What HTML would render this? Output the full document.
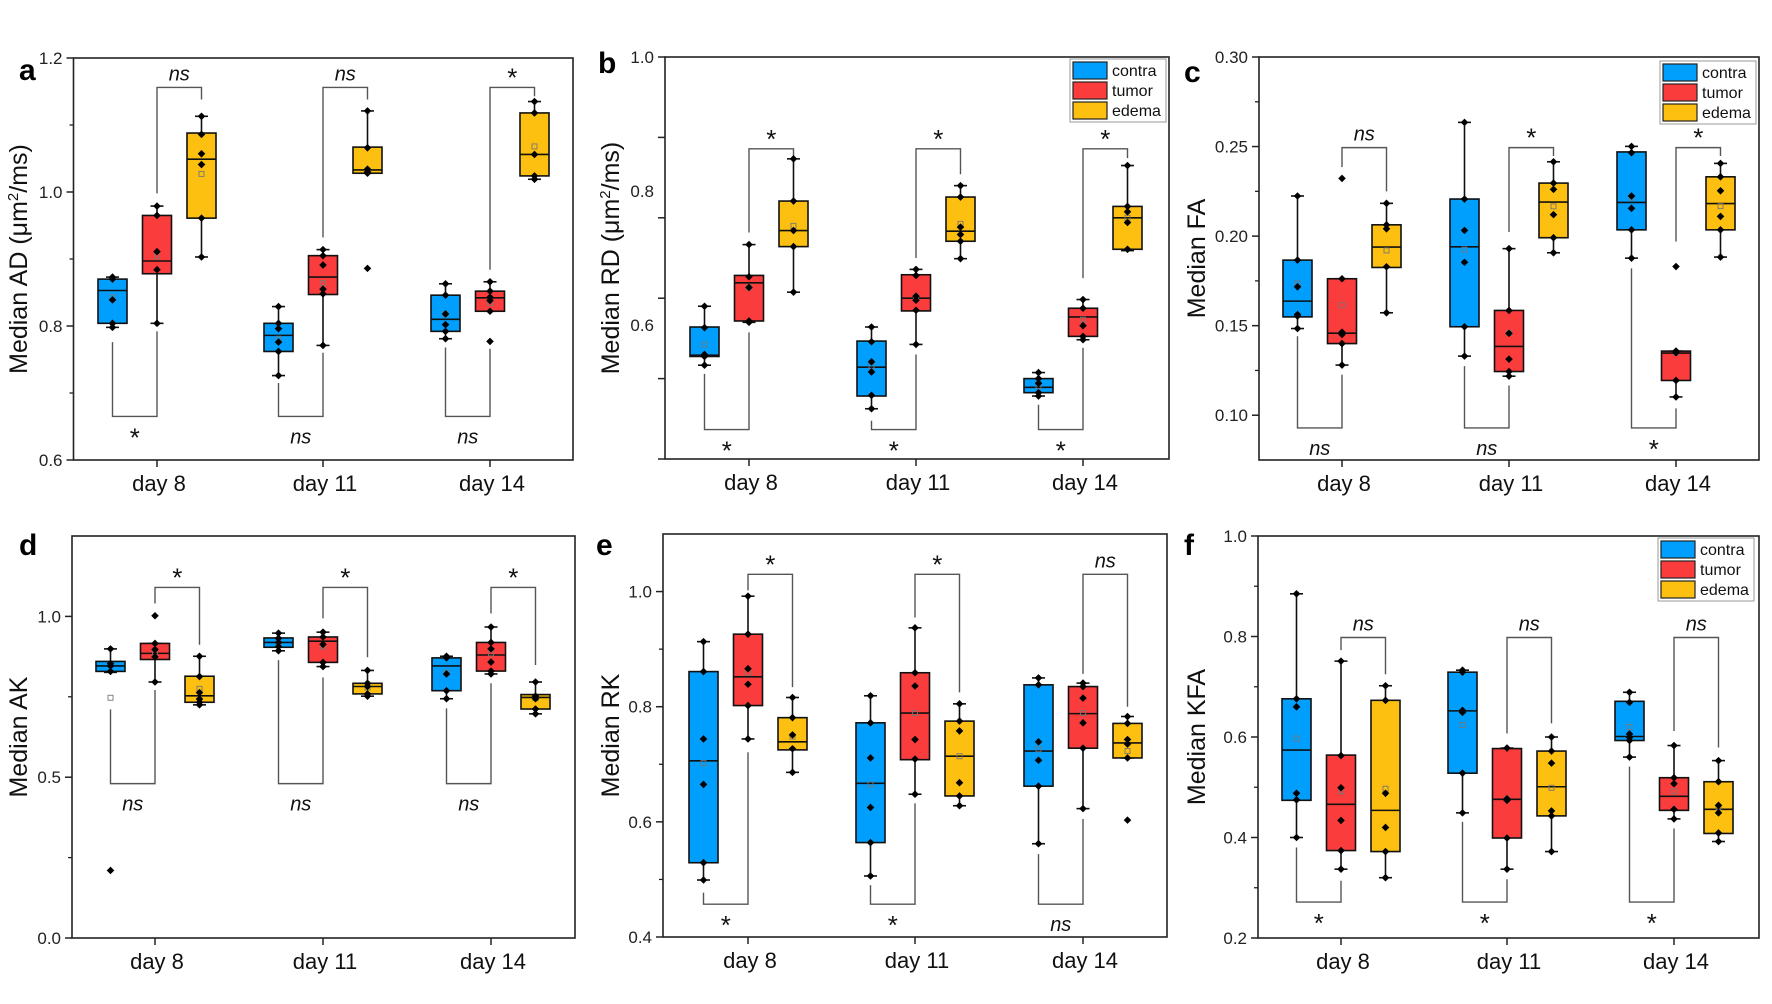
<!DOCTYPE html>
<html><head><meta charset="utf-8"><style>
html,body{margin:0;padding:0;background:#fff;}
svg{display:block;font-family:"Liberation Sans",Arial,sans-serif;}
</style></head><body>
<svg id="fig" width="1772" height="1004" viewBox="0 0 1772 1004" xmlns="http://www.w3.org/2000/svg"></svg>
<script>
// ---------- shared ----------
const days = ["day 8","day 11","day 14"];
const groups = ["contra","tumor","edema"];
const groupColors = ["#009ffd","#fa3c3c","#fdc010"];

// ---------- panel a : Median AD ----------
const aQ1  = [0.804,0.878,0.961, 0.762,0.847,1.028, 0.792,0.822,1.024];
const aMed = [0.853,0.897,1.049, 0.786,0.873,1.033, 0.810,0.842,1.056];
const aQ3  = [0.870,0.965,1.088, 0.804,0.905,1.067, 0.846,0.852,1.118];
const aLo  = [0.798,0.804,0.903, 0.726,0.771,1.028, 0.781,0.822,1.019];
const aHi  = [0.873,0.979,1.113, 0.829,0.914,1.121, 0.863,0.866,1.135];
const aMean= [0.843,0.904,1.027, 0.781,0.864,1.032, 0.818,0.834,1.068];
const aPts = [[0.873,0.870,0.839,0.804,0.798],[0.979,0.965,0.911,0.884,0.804],[1.113,1.086,1.057,1.041,0.961,0.903],
              [0.829,0.804,0.796,0.776,0.762,0.726],[0.914,0.905,0.891,0.855,0.848,0.771],[1.121,1.066,1.034,1.030,1.028],
              [0.863,0.846,0.818,0.802,0.792,0.781],[0.866,0.852,0.843,0.838,0.822],[1.135,1.118,1.056,1.024,1.019]];
const aOut = [[],[],[], [],[],[0.886], [],[0.777],[]];
const aTopY = 1.156, aTopLegs = [[0.998,1.138],[0.932,1.138],[0.884,1.143]], aTopLab = ["ns","ns","*"];
const aBotY = 0.665, aBotLegs = [[0.776,0.792],[0.715,0.760],[0.768,0.766]], aBotLab = ["*","ns","ns"];
const aTickLabels = [0.6,0.8,1.0,1.2], aMinor = [0.7,0.9,1.1];

// ---------- panel b : Median RD ----------
const bQ1  = [0.553,0.606,0.717, 0.494,0.621,0.725, 0.499,0.583,0.713];
const bMed = [0.555,0.663,0.741, 0.537,0.640,0.740, 0.507,0.612,0.760];
const bQ3  = [0.597,0.674,0.785, 0.576,0.675,0.791, 0.520,0.625,0.777];
const bLo  = [0.540,0.604,0.649, 0.475,0.571,0.699, 0.494,0.578,0.711];
const bHi  = [0.628,0.720,0.848, 0.597,0.683,0.808, 0.529,0.638,0.838];
const bMean= [0.571,0.656,0.748, 0.539,0.642,0.751, 0.509,0.608,0.760];
const bPts = [[0.628,0.596,0.556,0.553,0.540],[0.720,0.672,0.656,0.606,0.604],[0.848,0.785,0.741,0.717,0.649],
              [0.597,0.575,0.545,0.530,0.495,0.475],[0.683,0.674,0.643,0.637,0.622,0.571],[0.808,0.791,0.746,0.735,0.725,0.699],
              [0.529,0.520,0.513,0.499,0.494],[0.638,0.625,0.599,0.583,0.578],[0.838,0.777,0.769,0.753,0.713]];
const bOut = [[],[],[],[],[],[],[],[],[]];
const bTopY = 0.863, bTopLegs = [[0.738,0.849],[0.700,0.825],[0.670,0.849]], bTopLab = ["*","*","*"];
const bBotY = 0.444, bBotLegs = [[0.527,0.589],[0.457,0.556],[0.481,0.566]], bBotLab = ["*","*","*"];
const bTickLabels = [0.6,0.8,1.0], bMinor = [0.52,0.64,0.76,0.88];

// ---------- panel c : Median FA ----------
const cQ1  = [0.1549,0.140,0.1825, 0.1494,0.1244,0.1991, 0.2035,0.1194,0.2035];
const cMed = [0.1637,0.1458,0.1939, 0.194,0.1384,0.219, 0.2188,0.1347,0.2182];
const cQ3  = [0.1866,0.1762,0.2063, 0.2207,0.1585,0.2296, 0.247,0.1358,0.2331];
const cLo  = [0.1484,0.128,0.1572, 0.133,0.1218,0.1907, 0.1877,0.1102,0.1883];
const cHi  = [0.2224,0.1762,0.2183, 0.2635,0.193,0.2415, 0.2501,0.1358,0.2406];
const cMean= [0.1736,0.1614,0.1920, 0.1925,0.1459,0.2166, 0.2215,0.1350,0.2167];
const cPts = [[0.2224,0.1866,0.1717,0.1562,0.1553,0.1484],[0.1762,0.1464,0.1451,0.140,0.128],[0.2183,0.2063,0.2041,0.1829,0.1572],
              [0.2635,0.2207,0.2032,0.1854,0.1494,0.133],[0.193,0.1585,0.1457,0.1313,0.1244,0.1218],[0.2415,0.2296,0.2261,0.2120,0.1991,0.1907],
              [0.2501,0.2466,0.2224,0.2155,0.2035,0.1877],[0.1358,0.1349,0.1194,0.1102],[0.2406,0.2331,0.2253,0.2110,0.2035,0.1883]];
const cOut = [[],[0.2322],[], [],[],[], [],[0.183],[]];
const cTopY = 0.2494, cTopLegs = [[0.2385,0.2250],[0.2023,0.2447],[0.197,0.2447]], cTopLab = ["ns","*","*"];
const cBotY = 0.0929, cBotLegs = [[0.1441,0.1227],[0.1274,0.1166],[0.182,0.1038]], cBotLab = ["ns","ns","*"];
const cTickLabels = [0.10,0.15,0.20,0.25,0.30], cMinor = [0.125,0.175,0.225,0.275];

// ---------- panel d : Median AK ----------
const dQ1  = [0.829,0.866,0.733, 0.904,0.857,0.759, 0.769,0.830,0.712];
const dMed = [0.846,0.885,0.753, 0.919,0.923,0.782, 0.846,0.880,0.748];
const dQ3  = [0.860,0.916,0.814, 0.933,0.936,0.792, 0.871,0.919,0.757];
const dLo  = [0.826,0.796,0.725, 0.893,0.844,0.752, 0.744,0.821,0.697];
const dHi  = [0.899,0.916,0.876, 0.948,0.951,0.832, 0.876,0.967,0.796];
const dMean= [0.747,0.885,0.775, 0.916,0.906,0.779, 0.825,0.885,0.746];
const dPts = [[0.899,0.853,0.846,0.829],[0.916,0.897,0.874,0.796],[0.876,0.813,0.763,0.743,0.733,0.725],
              [0.948,0.932,0.919,0.906,0.893],[0.951,0.936,0.913,0.857,0.844],[0.832,0.792,0.782,0.759,0.752],
              [0.876,0.871,0.821,0.769,0.744],[0.967,0.919,0.899,0.858,0.830,0.821],[0.796,0.752,0.744,0.712,0.697]];
const dOut = [[0.210],[1.002],[], [],[],[], [],[],[]];
const dTopY = 1.090, dTopLegs = [[1.040,0.912],[0.994,0.873],[1.009,0.849]], dTopLab = ["*","*","*"];
const dBotY = 0.480, dBotLegs = [[0.711,0.771],[0.864,0.810],[0.714,0.792]], dBotLab = ["ns","ns","ns"];
const dTickLabels = [0.0,0.5,1.0], dMinor = [0.25,0.75];

// ---------- panel e : Median RK ----------
const eQ1  = [0.529,0.802,0.725, 0.564,0.708,0.645, 0.662,0.728,0.711];
const eMed = [0.706,0.852,0.739, 0.667,0.789,0.714, 0.723,0.788,0.737];
const eQ3  = [0.861,0.926,0.781, 0.772,0.859,0.775, 0.838,0.835,0.771];
const eLo  = [0.499,0.744,0.686, 0.506,0.648,0.628, 0.562,0.623,0.711];
const eHi  = [0.913,0.992,0.816, 0.819,0.937,0.805, 0.850,0.841,0.783];
const eMean= [0.702,0.859,0.748, 0.665,0.789,0.714, 0.726,0.789,0.723];
const ePts = [[0.913,0.861,0.744,0.665,0.529,0.499],[0.992,0.926,0.866,0.839,0.802,0.744],[0.816,0.781,0.751,0.727,0.686],
              [0.819,0.772,0.711,0.625,0.564,0.506],[0.937,0.859,0.836,0.743,0.709,0.648],[0.805,0.775,0.758,0.668,0.645,0.628],
              [0.850,0.838,0.739,0.707,0.662,0.562],[0.841,0.835,0.815,0.772,0.728,0.623],[0.783,0.771,0.743,0.735,0.711]];
const eOut = [[],[],[], [],[],[], [],[],[0.603]];
const eTopY = 1.030, eTopLegs = [[1.002,0.834],[0.955,0.825],[0.857,0.800]], eTopLab = ["*","*","ns"];
const eBotY = 0.457, eBotLegs = [[0.477,0.721],[0.490,0.632],[0.544,0.605]], eBotLab = ["*","*","ns"];
const eTickLabels = [0.4,0.6,0.8,1.0], eMinor = [0.5,0.7,0.9];

// ---------- panel f : Median KFA ----------
const fQ1  = [0.474,0.374,0.372, 0.528,0.399,0.443, 0.593,0.454,0.408];
const fMed = [0.574,0.466,0.454, 0.652,0.476,0.501, 0.601,0.482,0.456];
const fQ3  = [0.676,0.564,0.673, 0.729,0.577,0.572, 0.671,0.519,0.511];
const fLo  = [0.400,0.337,0.320, 0.449,0.337,0.372, 0.560,0.437,0.392];
const fHi  = [0.885,0.751,0.702, 0.733,0.578,0.600, 0.689,0.583,0.553];
const fMean= [0.597,0.492,0.497, 0.624,0.476,0.499, 0.620,0.492,0.460];
const fPts = [[0.885,0.676,0.660,0.488,0.475,0.400],[0.751,0.563,0.499,0.434,0.374,0.337],[0.702,0.673,0.488,0.420,0.372,0.320],
              [0.733,0.729,0.653,0.649,0.528,0.449],[0.578,0.477,0.474,0.399,0.337],[0.600,0.572,0.548,0.453,0.443,0.372],
              [0.689,0.669,0.606,0.599,0.593,0.560],[0.583,0.519,0.507,0.456,0.437],[0.553,0.511,0.464,0.449,0.409,0.392]];
const fOut = [[],[],[],[],[],[],[],[],[]];
const fTopY = 0.798, fTopLegs = [[0.773,0.725],[0.607,0.627],[0.612,0.579]], fTopLab = ["ns","ns","ns"];
const fBotY = 0.2716, fBotLegs = [[0.380,0.314],[0.431,0.317],[0.541,0.418]], fBotLab = ["*","*","*"];
const fTickLabels = [0.2,0.4,0.6,0.8,1.0], fMinor = [0.3,0.5,0.7,0.9];

// ---------- drawing ----------
const NS = "http://www.w3.org/2000/svg";
const svg = document.getElementById("fig");
function mk(tag, attrs, parent){
  const el = document.createElementNS(NS, tag);
  for (const k in attrs) el.setAttribute(k, attrs[k]);
  (parent||svg).appendChild(el);
  return el;
}
function diamond(g, x, y){
  const r = 3.8;
  const el = mk("polygon", {points:`${x},${y-r} ${x+r},${y} ${x},${y+r} ${x-r},${y}`, fill:"#000"}, g);
  
  
}

function drawPanel(p){
  const g = mk("g", {});
  
  
  const yScale = v => p.y1 - (v - p.vmin) / (p.vmax - p.vmin) * (p.y1 - p.y0);
  const xScale = (d, k) => p.days[d] + (k - 1) * 44.5;
  const bw = 29;

  const frame = mk("rect", {x:p.x0, y:p.y0, width:p.x1-p.x0, height:p.y1-p.y0, fill:"none", stroke:"#222", "stroke-width":1.6}, g);
  
  

  p.ticks.forEach(v => {
    const y = yScale(v);
    const t = mk("line", {x1:p.x0-7, x2:p.x0, y1:y, y2:y, stroke:"#222", "stroke-width":1.5}, g);
    
    
  });
  p.minor.forEach(v => {
    const y = yScale(v);
    const t = mk("line", {x1:p.x0-4, x2:p.x0, y1:y, y2:y, stroke:"#222", "stroke-width":1.3}, g);
    
    
  });
  p.labels.forEach(v => {
    const y = yScale(v);
    const t = mk("text", {x:p.x0-11, y:y+6, "text-anchor":"end", "font-size":17, fill:"#222"}, g);
    t.textContent = v.toFixed(p.dec);
    
    
  });
  days.forEach((dname, d) => {
    const x = p.days[d];
    const t = mk("line", {x1:x, x2:x, y1:p.y1, y2:p.y1+7, stroke:"#222", "stroke-width":1.5}, g);
    
    
    const l = mk("text", {x:x+2, y:p.y1+31, "text-anchor":"middle", "font-size":22, fill:"#111"}, g);
    l.textContent = dname;
    
    
  });
  const ty = (p.y0 + p.y1) / 2;
  const title = mk("text", {x:p.titleX, y:ty, "text-anchor":"middle", "font-size":25, fill:"#111", transform:`rotate(-90 ${p.titleX} ${ty})`}, g);
  
  
  if (p.unit){
    title.appendChild(document.createTextNode(p.title + " (μm"));
    const sup = mk("tspan", {"font-size":15, dy:-9}, title);
    sup.textContent = "2";
    const rest = mk("tspan", {dy:9}, title);
    rest.textContent = "/ms)";
  } else {
    title.textContent = p.title;
  }
  const let_ = mk("text", {x:p.letterX, y:p.letterY, "font-size":30, "font-weight":"bold", fill:"#000"}, g);
  let_.textContent = p.letter;
  
  

  const labAttrs = (lab) => lab === "*" ? {"font-size":26, "font-style":"normal"} : {"font-size":20, "font-style":"italic"};
  days.forEach((dn, d) => {
    const xr = xScale(d,1), xy = xScale(d,2), xb = xScale(d,0);
    const yt = yScale(p.topY);
    const br = mk("polyline", {points:`${xr},${yScale(p.topLegs[d][0])} ${xr},${yt} ${xy},${yt} ${xy},${yScale(p.topLegs[d][1])}`, fill:"none", stroke:"#555", "stroke-width":1.4}, g);
    
    
    const ta = labAttrs(p.topLab[d]);
    const tl = mk("text", Object.assign({x:(xr+xy)/2, y:yt-(p.topLab[d]=="*"?1:7), "text-anchor":"middle", fill:"#111"}, ta), g);
    tl.textContent = p.topLab[d];
    
    
    const yb = yScale(p.botY);
    const bb = mk("polyline", {points:`${xb},${yScale(p.botLegs[d][0])} ${xb},${yb} ${xr},${yb} ${xr},${yScale(p.botLegs[d][1])}`, fill:"none", stroke:"#555", "stroke-width":1.4}, g);
    
    
    const ba = labAttrs(p.botLab[d]);
    const bl = mk("text", Object.assign({x:(xb+xr)/2, y:yb+(p.botLab[d]=="*"?30:27), "text-anchor":"middle", fill:"#111"}, ba), g);
    bl.textContent = p.botLab[d];
    
    
  });

  for (let i = 0; i < 9; i++){
    const d = Math.floor(i/3), k = i % 3;
    const x = xScale(d,k);
    const bg = mk("g", {}, g);
    
    
    const wh = mk("line", {x1:x, x2:x, y1:yScale(p.hi[i]), y2:yScale(p.lo[i]), stroke:"#111", "stroke-width":1.6}, bg);
    
    
    [p.hi[i], p.lo[i]].forEach(v => {
      const c = mk("line", {x1:x-6.5, x2:x+6.5, y1:yScale(v), y2:yScale(v), stroke:"#111", "stroke-width":1.6}, bg);
      
      
    });
    const r = mk("rect", {x:x-bw/2, y:yScale(p.q3[i]), width:bw, height:Math.max(1, yScale(p.q1[i])-yScale(p.q3[i])), fill:groupColors[k], stroke:"#111", "stroke-width":1.6}, bg);
    
    
    const m = mk("line", {x1:x-bw/2, x2:x+bw/2, y1:yScale(p.med[i]), y2:yScale(p.med[i]), stroke:"#111", "stroke-width":1.6}, bg);
    
    
    const mn = mk("rect", {x:x-2.5, y:yScale(p.mean[i])-2.5, width:5, height:5, fill:"none", stroke:"#777", "stroke-width":0.9}, bg);
    
    
    p.pts[i].forEach(v => diamond(bg, x, yScale(v)));
    p.out[i].forEach(v => diamond(bg, x, yScale(v)));
  }

  if (p.legend){
    const lg = mk("g", {}, g);
    
    
    const [lx, ly] = p.legend;
    const lb = mk("rect", {x:lx, y:ly, width:96, height:63, fill:"#fff", stroke:"#999", "stroke-width":1}, lg);
    
    
    groups.forEach((gn, k) => {
      const sw = mk("rect", {x:lx+3, y:ly+3+k*20, width:34, height:17, fill:groupColors[k], stroke:"#222", "stroke-width":1.2}, lg);
      
      
      const tx = mk("text", {x:lx+42, y:ly+17+k*20, "font-size":16, fill:"#111"}, lg);
      tx.textContent = gn;
      
      
    });
  }
}

const panels = [
 {letter:"a", x0:73.5, x1:573, y0:58, y1:460, vmin:0.6, vmax:1.2, days:[157,323,490], ticks:aTickLabels, minor:aMinor, labels:aTickLabels, dec:1,
  title:"Median AD", unit:true, titleX:27, letterX:19, letterY:80,
  q1:aQ1, med:aMed, q3:aQ3, lo:aLo, hi:aHi, mean:aMean, pts:aPts, out:aOut,
  topY:aTopY, topLegs:aTopLegs, topLab:aTopLab, botY:aBotY, botLegs:aBotLegs, botLab:aBotLab},
 {letter:"b", x0:665, x1:1169, y0:57, y1:459, vmin:0.4, vmax:1.0, days:[749,916,1083], ticks:[0.4,0.52,0.64,0.76,0.88,1.0], minor:[], labels:bTickLabels, dec:1,
  title:"Median RD", unit:true, titleX:619, letterX:598, letterY:73, legend:[1070,59],
  q1:bQ1, med:bMed, q3:bQ3, lo:bLo, hi:bHi, mean:bMean, pts:bPts, out:bOut,
  topY:bTopY, topLegs:bTopLegs, topLab:bTopLab, botY:bBotY, botLegs:bBotLegs, botLab:bBotLab},
 {letter:"c", x0:1259, x1:1759, y0:57, y1:460, vmin:0.075, vmax:0.30, days:[1342,1509,1676], ticks:cTickLabels, minor:cMinor, labels:cTickLabels, dec:2,
  title:"Median FA", unit:false, titleX:1205, letterX:1184, letterY:82, legend:[1660,61],
  q1:cQ1, med:cMed, q3:cQ3, lo:cLo, hi:cHi, mean:cMean, pts:cPts, out:cOut,
  topY:cTopY, topLegs:cTopLegs, topLab:cTopLab, botY:cBotY, botLegs:cBotLegs, botLab:cBotLab},
 {letter:"d", x0:72, x1:575, y0:536, y1:938, vmin:0.0, vmax:1.25, days:[155,323,491], ticks:dTickLabels, minor:dMinor, labels:dTickLabels, dec:1,
  title:"Median AK", unit:false, titleX:27, letterX:19, letterY:555,
  q1:dQ1, med:dMed, q3:dQ3, lo:dLo, hi:dHi, mean:dMean, pts:dPts, out:dOut,
  topY:dTopY, topLegs:dTopLegs, topLab:dTopLab, botY:dBotY, botLegs:dBotLegs, botLab:dBotLab},
 {letter:"e", x0:663, x1:1167, y0:534, y1:937, vmin:0.4, vmax:1.1, days:[748,915,1083], ticks:eTickLabels, minor:eMinor, labels:eTickLabels, dec:1,
  title:"Median RK", unit:false, titleX:619, letterX:596, letterY:555,
  q1:eQ1, med:eMed, q3:eQ3, lo:eLo, hi:eHi, mean:eMean, pts:ePts, out:eOut,
  topY:eTopY, topLegs:eTopLegs, topLab:eTopLab, botY:eBotY, botLegs:eBotLegs, botLab:eBotLab},
 {letter:"f", x0:1258, x1:1759, y0:536, y1:938, vmin:0.2, vmax:1.0, days:[1341,1507,1674], ticks:fTickLabels, minor:fMinor, labels:fTickLabels, dec:1,
  title:"Median KFA", unit:false, titleX:1205, letterX:1184, letterY:555, legend:[1658,538],
  q1:fQ1, med:fMed, q3:fQ3, lo:fLo, hi:fHi, mean:fMean, pts:fPts, out:fOut,
  topY:fTopY, topLegs:fTopLegs, topLab:fTopLab, botY:fBotY, botLegs:fBotLegs, botLab:fBotLab}
];
panels.forEach(drawPanel);
</script>
</body></html>
